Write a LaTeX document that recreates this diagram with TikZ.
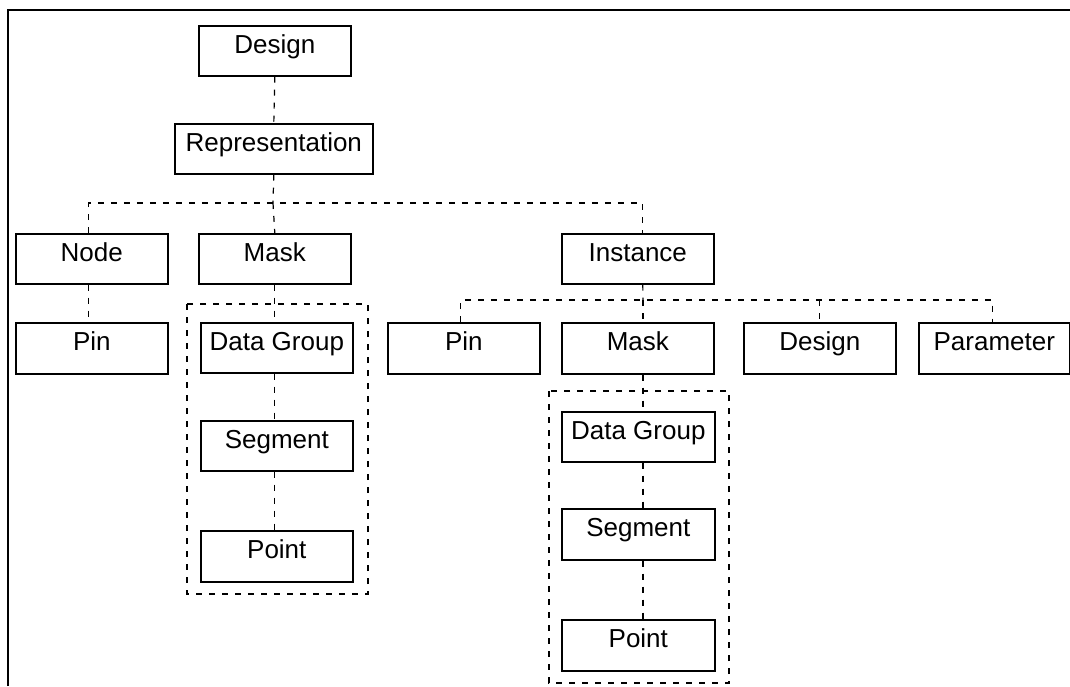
\documentclass[tikz,border=0pt]{standalone}
\usepackage{fontspec}
\setmainfont{Liberation Sans}
\begin{document}
\begin{tikzpicture}[x=1pt,y=-1pt,
  box/.style={draw=black, line width=1.6pt, inner sep=0pt, anchor=north west,
    minimum width=152pt, text height=28pt, text depth=22pt,
    font=\fontsize{26}{29}\selectfont},
  conn/.style={draw=black, line width=1.2pt, dash pattern=on 6pt off 7pt},
  groupline/.style={draw=black, line width=1.2pt, dash pattern=on 6pt off 7pt}]
\useasboundingbox (0,0) rectangle (1070,686);
% outer frame (top and left edges)
\draw[line width=2pt] (8,686) -- (8,10) -- (1070,10);

% top of the hierarchy
\node[box] (design) at (198,25) {Design};
\node[box, minimum width=198pt] (rep) at (174,123) {Representation};

% first level
\node[box] (node) at (15,233) {Node};
\node[box] (mask1) at (198,233) {Mask};
\node[box] (inst) at (561,233) {Instance};

% children of Node and Mask
\node[box, text depth=23pt] (pin1) at (15,322) {Pin};
\node[box] (dg1) at (200,322) {Data Group};
\node[box] (seg1) at (200,420) {Segment};
\node[box, text depth=23pt] (pt1) at (200,530) {Point};

% children of Instance
\node[box, text depth=23pt] (pin2) at (387,322) {Pin};
\node[box, text depth=23pt] (mask2) at (561,322) {Mask};
\node[box, text depth=23pt] (design2) at (743,322) {Design};
\node[box, minimum width=151pt, text depth=23pt] (param) at (918,322) {Parameter};
\node[box, minimum width=153pt] (dg2) at (561,411) {Data Group};
\node[box, minimum width=153pt, text depth=23pt] (seg2) at (561,508) {Segment};
\node[box, minimum width=153pt, text depth=23pt] (pt2) at (561,619) {Point};

% dashed groupings around the mask contents
\draw[groupline] (187,304) rectangle (368,594);
\draw[groupline] (549,391) rectangle (729,683);

% connectors
\coordinate (bus1) at (273,203);
\coordinate (bus2) at (643,300);
\draw[conn] (design.south) -- (rep.north);
\draw[conn] (rep.south) -- (bus1);
\draw[conn] ([xshift=-3pt]node.north) |- (bus1) -| ([xshift=5pt]inst.north);
\draw[conn] (bus1) -- (mask1.north);
\draw[conn] ([xshift=-3pt]node.south) -- ([xshift=-3pt]pin1.north);
\draw[conn] (mask1.south) -- (mask1.south |- dg1.north);
\draw[conn] (mask1.south |- dg1.south) -- (mask1.south |- seg1.north);
\draw[conn] (mask1.south |- seg1.south) -- (mask1.south |- pt1.north);

\draw[conn] ([xshift=5pt]inst.south) -- (bus2);
\draw[conn] ([xshift=-3pt]pin2.north) |- (bus2) -| ([xshift=-2pt]param.north);
\draw[conn] (design2.north |- bus2) -- (design2.north);
\draw[conn] (bus2) -- (bus2 |- mask2.north);
\draw[conn] (bus2 |- mask2.south) -- (bus2 |- dg2.north);
\draw[conn] (bus2 |- dg2.south) -- (bus2 |- seg2.north);
\draw[conn] (bus2 |- seg2.south) -- (bus2 |- pt2.north);
\end{tikzpicture}
\end{document}
